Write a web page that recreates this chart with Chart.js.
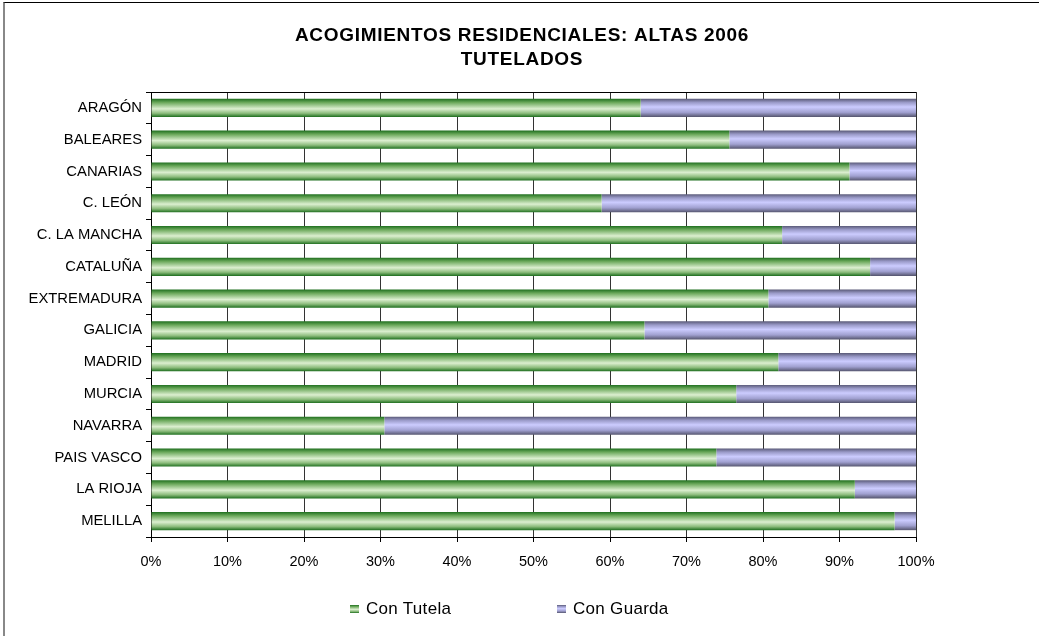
<!DOCTYPE html>
<html lang="es">
<head>
    <meta charset="UTF-8">
    <title>Acogimientos residenciales: altas 2006</title>
    <script src="https://cdn.jsdelivr.net/npm/chart.js"></script>
    <style>
        body { margin: 0; background: #fff; font-family: "Liberation Sans", Arial, sans-serif; }
        #wrap { position: relative; width: 1039px; height: 636px; overflow: hidden; }
        #frame { position: absolute; left: 3px; top: 2px; width: 1100px; height: 700px;
                 border-left: 2px solid #888; border-top: 1px solid #000; }
        canvas { position: absolute; left: 0; top: 0; }
        .legend-item { position: absolute; top: 599px; font-size: 17px; letter-spacing: 0.3px; color: #000; line-height: 20px; }
        .swatch { display: inline-block; width: 9px; height: 8px; margin-right: 7px; vertical-align: 1px; }
        .green { background: linear-gradient(#1f6f1f, #6aa85a 20%, #dcefd0 55%, #8cbc7c 80%, #1f6f1f); }
        .purple { background: linear-gradient(#5a5a78, #9a9ac8 20%, #ccccff 45%, #a0a0d0 75%, #55556e); }
    </style>
</head>
<body>
<div id="wrap">
    <div id="frame"></div>
    <canvas id="chart" width="1039" height="636"></canvas>
    <div class="legend-item" style="left:350px"><span class="swatch green"></span>Con Tutela</div>
    <div class="legend-item" style="left:557px"><span class="swatch purple"></span>Con Guarda</div>
</div>

<script>
    // Datos (porcentaje de altas)
    const titleLines = ['ACOGIMIENTOS RESIDENCIALES: ALTAS 2006', 'TUTELADOS'];
    const regiones = ['ARAGÓN', 'BALEARES', 'CANARIAS', 'C. LEÓN', 'C. LA MANCHA', 'CATALUÑA', 'EXTREMADURA',
        'GALICIA', 'MADRID', 'MURCIA', 'NAVARRA', 'PAIS VASCO', 'LA RIOJA', 'MELILLA'];
    const conTutela = [64.0, 75.6, 91.3, 58.9, 82.5, 94.0, 80.7, 64.5, 82.0, 76.5, 30.5, 73.9, 92.0, 97.2];
    const conGuarda = [36.0, 24.4, 8.7, 41.1, 17.5, 6.0, 19.3, 35.5, 18.0, 23.5, 69.5, 26.1, 8.0, 2.8];

    const barPct = 0.57;
    const fontFamily = '"Liberation Sans", Arial, sans-serif';

    const greenStops = [[0, '#1f6f1f'], [0.2, '#6aa85a'], [0.55, '#dcefd0'], [0.8, '#8cbc7c'], [1, '#1f6f1f']];
    const purpleStops = [[0, '#5a5a78'], [0.2, '#9a9ac8'], [0.45, '#ccccff'], [0.75, '#a0a0d0'], [1, '#55556e']];

    // Gradient across the thickness of each bar
    function barGradient(context, stops) {
        const chart = context.chart;
        const area = chart.chartArea;
        if (!area || !chart.scales.y) return stops[2][1];
        const y = chart.scales.y.getPixelForValue(context.dataIndex);
        const h = area.height / regiones.length * barPct;
        const g = chart.ctx.createLinearGradient(0, y - h / 2, 0, y + h / 2);
        stops.forEach(s => g.addColorStop(s[0], s[1]));
        return g;
    }

    // Title and top border of the plot
    const extras = {
        id: 'extras',
        afterDraw(chart) {
            const ctx = chart.ctx;
            const a = chart.chartArea;
            ctx.save();
            ctx.strokeStyle = '#000';
            ctx.lineWidth = 1;
            ctx.beginPath();
            ctx.moveTo(a.left - 5, a.top + 0.5);
            ctx.lineTo(a.right, a.top + 0.5);
            ctx.stroke();
            ctx.fillStyle = '#000';
            ctx.font = 'bold 19px ' + fontFamily;
            ctx.letterSpacing = '0.7px';
            ctx.textAlign = 'center';
            ctx.textBaseline = 'middle';
            titleLines.forEach((t, i) => ctx.fillText(t, 522, 36 + i * 24));
            ctx.restore();
        }
    };

    new Chart(document.getElementById('chart'), {
        type: 'bar',
        data: {
            labels: regiones,
            datasets: [{
                label: 'Con Tutela',
                data: conTutela,
                backgroundColor: c => barGradient(c, greenStops),
                borderWidth: 0
            }, {
                label: 'Con Guarda',
                data: conGuarda,
                backgroundColor: c => barGradient(c, purpleStops),
                borderWidth: 0
            }]
        },
        options: {
            indexAxis: 'y',
            responsive: false,
            animation: false,
            barPercentage: barPct,
            categoryPercentage: 1,
            layout: { padding: { left: 0, right: 123, top: 92, bottom: 0 } },
            plugins: {
                legend: { display: false },
                title: { display: false },
                tooltip: { enabled: false }
            },
            scales: {
                x: {
                    stacked: true,
                    min: 0,
                    max: 100,
                    ticks: {
                        stepSize: 10,
                        color: '#000',
                        padding: 11,
                        font: { family: fontFamily, size: 14.5 },
                        callback: v => v + '%'
                    },
                    grid: { color: '#333', tickLength: 5, tickColor: '#000' },
                    border: { color: '#000' },
                    afterFit: s => { s.height = 99; }
                },
                y: {
                    stacked: true,
                    ticks: {
                        color: '#000',
                        padding: 4,
                        font: { family: fontFamily, size: 14.8 }
                    },
                    grid: { drawOnChartArea: false, tickLength: 5, color: '#000', offset: true },
                    border: { color: '#000' },
                    afterFit: s => { s.width = 151; }
                }
            }
        },
        plugins: [extras]
    });
</script>
</body>
</html>
